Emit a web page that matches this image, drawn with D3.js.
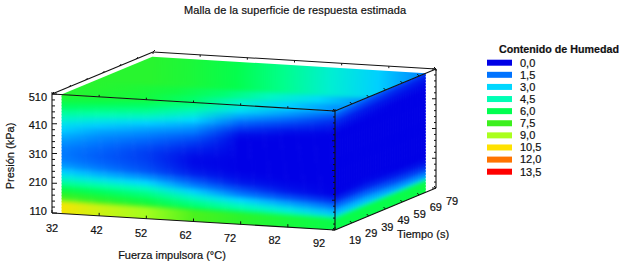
<!DOCTYPE html>
<html lang="es">
<head>
  <meta charset="UTF-8">
  <title>Malla de la superficie de respuesta estimada</title>
  <script src="https://d3js.org/d3.v7.min.js"></script>
  <style>
    body { margin: 0; background: white; }
    svg { display: block; }
    text { font-family: "Liberation Sans", Arial, sans-serif; fill: #111; stroke: #111; stroke-width: 0.2px; }
    .tick-label { font-size: 11px; }
    .axis-title { font-size: 11px; }
  </style>
</head>
<body>
  <svg width="621" height="265"></svg>

  <script>
    const fuerzaTicks = [32, 42, 52, 62, 72, 82, 92];
    const tiempoTicks = [19, 29, 39, 49, 59, 69, 79];
    const presionTicks = [110, 210, 310, 410, 510];

    const leyendaValores = [0, 1.5, 3, 4.5, 6, 7.5, 9, 10.5, 12, 13.5];
    const leyendaEtiquetas = ["0,0", "1,5", "3,0", "4,5", "6,0", "7,5", "9,0", "10,5", "12,0", "13,5"];
    const leyendaColores = ["#0000e6", "#0073ff", "#00d7ff", "#00ffb4", "#00ff50", "#3cf01e", "#aaff1e", "#ffe100", "#ff7300", "#ff0000"];

    // columnas y filas de las tablas
    const fuerzaMalla = [34, 42, 52, 62, 72, 82, 92];
    const tiempoMalla = [19, 37, 55, 73];
    const presionMalla = [510, 490, 470, 450, 430, 410, 390, 370, 350, 330, 310, 290, 270, 250, 230, 210, 190, 170, 150, 130, 110];

    // cara frontal: una fila por presion, una columna por fuerza
    const caraFrontal = [
      [7.0, 6.8, 6.5, 5.6, 4.0, 2.9, 2.0],
      [6.5, 6.2, 5.7, 4.8, 3.2, 2.1, 1.1],
      [5.8, 5.4, 5.0, 3.9, 2.2, 1.3, 0.5],
      [5.0, 4.6, 4.0, 3.0, 1.3, 0.7, 0.2],
      [4.2, 3.6, 2.9, 2.2, 0.7, 0.2, 0.0],
      [3.4, 2.8, 2.2, 1.6, 0.2, 0.0, 0.0],
      [2.9, 2.2, 1.7, 1.1, 0.0, 0.0, 0.0],
      [2.4, 1.8, 1.3, 0.7, 0.0, 0.0, 0.0],
      [2.0, 1.5, 1.0, 0.4, 0.0, 0.0, 0.0],
      [1.7, 1.3, 0.8, 0.2, 0.0, 0.0, 0.0],
      [1.6, 1.2, 0.8, 0.1, 0.0, 0.0, 0.0],
      [1.7, 1.3, 0.9, 0.2, 0.0, 0.0, 0.0],
      [2.1, 1.6, 1.1, 0.4, 0.1, 0.0, 0.0],
      [2.9, 2.4, 1.9, 1.0, 0.3, 0.1, 0.0],
      [3.9, 3.5, 3.0, 1.7, 0.9, 0.3, 0.0],
      [5.0, 4.7, 4.3, 2.9, 1.6, 1.0, 0.5],
      [6.2, 5.8, 5.3, 4.1, 3.0, 2.2, 1.4],
      [7.3, 6.8, 6.2, 5.2, 4.3, 3.5, 2.5],
      [8.3, 7.7, 7.1, 6.0, 5.4, 4.7, 3.8],
      [9.3, 8.7, 8.0, 6.9, 6.2, 5.6, 5.0],
      [10.3, 9.6, 8.9, 7.7, 7.1, 6.6, 6.2]
    ];

    // cara derecha: una fila por presion, una columna por tiempo
    const caraDerecha = [
      [2.0, 1.5, 1.1, 0.8],
      [1.1, 0.8, 0.5, 0.3],
      [0.5, 0.3, 0.2, 0.1],
      [0.2, 0.1, 0.0, 0.0],
      [0.0, 0.0, 0.0, 0.0],
      [0.0, 0.0, 0.0, 0.0],
      [0.0, 0.0, 0.0, 0.0],
      [0.0, 0.0, 0.0, 0.0],
      [0.0, 0.0, 0.0, 0.0],
      [0.0, 0.0, 0.0, 0.0],
      [0.0, 0.0, 0.0, 0.0],
      [0.0, 0.0, 0.0, 0.0],
      [0.0, 0.0, 0.0, 0.0],
      [0.0, 0.0, 0.0, 0.0],
      [0.0, 0.1, 0.0, 0.0],
      [0.5, 0.5, 0.3, 0.2],
      [1.4, 1.3, 0.9, 0.7],
      [2.5, 2.4, 1.9, 1.7],
      [3.8, 3.7, 3.3, 3.2],
      [5.0, 5.0, 4.9, 4.9],
      [6.2, 6.2, 6.2, 6.3]
    ];

    // cara superior (510 kPa): una fila por tiempo, una columna por fuerza
    const caraSuperior = [
      [7.0, 6.8, 6.5, 5.6, 4.0, 2.9, 2.0],
      [7.0, 6.8, 6.4, 5.5, 4.2, 3.1, 1.9],
      [7.0, 6.8, 6.3, 5.4, 4.2, 3.1, 1.8],
      [7.0, 6.7, 6.1, 5.1, 3.9, 2.9, 1.7]
    ];

    const svg = d3.select("svg");
    const color = d3.scaleLinear().domain(leyendaValores).range(leyendaColores).clamp(true);

    // proyeccion del cubo: cada eje aporta un desplazamiento en pantalla
    const fuerzaX = d3.scaleLinear().domain([32, 92]).range([0, 283]);
    const fuerzaY = d3.scaleLinear().domain([32, 92]).range([0, 17]);
    const tiempoX = d3.scaleLinear().domain([19, 79]).range([0, 101]);
    const tiempoY = d3.scaleLinear().domain([19, 79]).range([0, -42]);
    const presionY = d3.scaleLinear().domain([110, 510]).range([0, -119]);

    function project(f, t, p) {
      return [52 + fuerzaX(f) + tiempoX(t), 213 + fuerzaY(f) + tiempoY(t) + presionY(p)];
    }

    const defs = svg.append("defs");
    const blur = defs.append("filter").attr("id", "suave")
      .attr("color-interpolation-filters", "sRGB")
      .attr("x", "-5%").attr("y", "-15%").attr("width", "110%").attr("height", "130%");
    blur.append("feGaussianBlur").attr("stdDeviation", "0.6 2.2");

    const fMin = d3.min(fuerzaMalla), fMax = d3.max(fuerzaMalla);
    const tMin = d3.min(tiempoMalla), tMax = d3.max(tiempoMalla);
    const pMin = 110, pMax = 510;

    // cada fila es una tira con degradado a lo largo de sus columnas
    function drawFace(id, outline, rows, table, columns, rowPoint, colPoint, halfStep) {
      defs.append("clipPath").attr("id", "clip-" + id)
        .append("polygon").attr("points", outline.join(" "));
      const layer = svg.append("g").attr("clip-path", `url(#clip-${id})`)
        .append("g").attr("filter", "url(#suave)");
      rows.forEach((row, i) => {
        const a = columns[0], b = columns[columns.length - 1];
        const start = colPoint(a, row), end = colPoint(b, row);
        const grad = defs.append("linearGradient")
          .attr("id", `${id}-${i}`)
          .attr("gradientUnits", "userSpaceOnUse")
          .attr("x1", start[0]).attr("y1", start[1])
          .attr("x2", end[0]).attr("y2", end[1]);
        const offset = d3.scaleLinear().domain([a, b]).range([0, 1]);
        columns.forEach((c, j) => {
          grad.append("stop").attr("offset", offset(c)).attr("stop-color", color(table[i][j]));
        });
        const margin = (i === 0 || i === rows.length - 1) ? halfStep * 4 : halfStep * 1.1;
        layer.append("polygon")
          .attr("points", rowPoint(a, b, row, margin).join(" "))
          .attr("fill", `url(#${id}-${i})`);
      });
    }

    const frontal = [project(fMin, tMin, pMax), project(fMax, tMin, pMax), project(fMax, tMin, pMin), project(fMin, tMin, pMin)];
    drawFace("frontal", frontal, presionMalla, caraFrontal, fuerzaMalla,
      (a, b, p, m) => [project(a - 8, tMin, p + m), project(b + 8, tMin, p + m), project(b + 8, tMin, p - m), project(a - 8, tMin, p - m)],
      (f, p) => project(f, tMin, p), 10);

    const derecha = [project(fMax, tMin, pMax), project(fMax, tMax, pMax), project(fMax, tMax, pMin), project(fMax, tMin, pMin)];
    drawFace("derecha", derecha, presionMalla, caraDerecha, tiempoMalla,
      (a, b, p, m) => [project(fMax, a - 8, p + m), project(fMax, b + 8, p + m), project(fMax, b + 8, p - m), project(fMax, a - 8, p - m)],
      (t, p) => project(fMax, t, p), 10);

    const superior = [project(fMin, tMin, pMax), project(fMin, tMax, pMax), project(fMax, tMax, pMax), project(fMax, tMin, pMax)];
    drawFace("superior", superior, tiempoMalla, caraSuperior, fuerzaMalla,
      (a, b, t, m) => [project(a - 8, t - m, pMax), project(b + 8, t - m, pMax), project(b + 8, t + m, pMax), project(a - 8, t + m, pMax)],
      (f, t) => project(f, t, pMax), 9);

    // borde punteado blanco de la malla
    const line = d3.line();
    [[project(fMin, tMin, pMax), project(fMin, tMin, pMin)],
     [project(fMax, tMax, pMax), project(fMax, tMax, pMin)]].forEach(d => {
      svg.append("path").attr("d", line(d))
        .attr("fill", "none").attr("stroke", "white").attr("stroke-opacity", 0.75)
        .attr("stroke-dasharray", "1 2");
    });

    // aristas del cubo
    const c = (f, t, p) => project(f, t, p);
    const edges = [
      [c(32, 19, 510), c(32, 79, 510)],
      [c(32, 79, 510), c(92, 79, 510)],
      [c(92, 79, 510), c(92, 19, 510)],
      [c(92, 19, 510), c(32, 19, 510)],
      [c(32, 19, 510), c(32, 19, 110)],
      [c(92, 19, 510), c(92, 19, 110)],
      [c(92, 79, 510), c(92, 79, 110)],
      [c(32, 19, 110), c(92, 19, 110)],
      [c(92, 19, 110), c(92, 79, 110)]
    ];
    svg.append("g").selectAll("path").data(edges).join("path")
      .attr("d", d => line(d)).attr("fill", "none").attr("stroke", "#111").attr("stroke-width", 1.1);

    // marcas sobre las aristas
    const marks = [];
    fuerzaTicks.forEach(f => {
      marks.push([c(f, 19, 110), [c(f, 19, 110)[0], c(f, 19, 110)[1] - 3]]);
      marks.push([c(f, 19, 510), [c(f, 19, 510)[0], c(f, 19, 510)[1] - 2]]);
      marks.push([c(f, 79, 510), [c(f, 79, 510)[0], c(f, 79, 510)[1] + 2]]);
    });
    tiempoTicks.forEach(t => {
      marks.push([c(92, t, 110), [c(92, t, 110)[0] - 2, c(92, t, 110)[1] - 2]]);
      marks.push([c(92, t, 510), [c(92, t, 510)[0] - 2, c(92, t, 510)[1] - 2]]);
      marks.push([c(32, t, 510), [c(32, t, 510)[0] + 2, c(32, t, 510)[1] - 2]]);
    });
    presionTicks.forEach(p => {
      marks.push([c(32, 19, p), [c(32, 19, p)[0] + 5, c(32, 19, p)[1]]]);
      marks.push([c(92, 19, p), [c(92, 19, p)[0] - 3, c(92, 19, p)[1]]]);
      marks.push([c(92, 79, p), [c(92, 79, p)[0] - 4, c(92, 79, p)[1]]]);
    });
    d3.range(130, 510, 20).filter(p => !presionTicks.includes(p)).forEach(p => {
      marks.push([c(32, 19, p), [c(32, 19, p)[0] + 3, c(32, 19, p)[1]]]);
      marks.push([c(92, 19, p), [c(92, 19, p)[0] - 2, c(92, 19, p)[1]]]);
      marks.push([c(92, 79, p), [c(92, 79, p)[0] - 2, c(92, 79, p)[1]]]);
    });
    svg.append("g").selectAll("path").data(marks).join("path")
      .attr("d", d => line(d)).attr("stroke", "#111").attr("stroke-width", 1);

    // etiquetas de los ejes
    const fuerzaLabelX = d3.scaleLinear().domain([32, 92]).range([52, 319]);
    const fuerzaLabelY = d3.scaleLinear().domain([32, 92]).range([228, 243]);
    const tiempoLabelX = d3.scaleLinear().domain([19, 79]).range([355, 452]);
    const tiempoLabelY = d3.scaleLinear().domain([19, 79]).range([240, 201]);
    const presionLabelY = d3.scaleLinear().domain([110, 510]).range([211, 97]);

    svg.append("g").selectAll("text").data(fuerzaTicks).join("text")
      .attr("class", "tick-label").attr("text-anchor", "middle").attr("dy", "0.35em")
      .attr("x", d => fuerzaLabelX(d)).attr("y", d => fuerzaLabelY(d)).text(d => d);
    svg.append("g").selectAll("text").data(tiempoTicks).join("text")
      .attr("class", "tick-label").attr("text-anchor", "middle").attr("dy", "0.35em")
      .attr("x", d => tiempoLabelX(d)).attr("y", d => tiempoLabelY(d)).text(d => d);
    svg.append("g").selectAll("text").data(presionTicks).join("text")
      .attr("class", "tick-label").attr("text-anchor", "end").attr("dy", "0.35em")
      .attr("x", 47).attr("y", d => presionLabelY(d)).text(d => d);

    svg.append("text").attr("class", "axis-title").attr("text-anchor", "middle")
      .attr("x", 172).attr("y", 259).text("Fuerza impulsora (°C)");
    svg.append("text").attr("class", "axis-title").attr("text-anchor", "middle")
      .attr("x", 423).attr("y", 238).text("Tiempo (s)");
    svg.append("text").attr("class", "axis-title").attr("text-anchor", "middle")
      .attr("transform", "translate(14,156) rotate(-90)").text("Presión (kPa)");

    svg.append("text").attr("x", 184).attr("y", 14)
      .attr("font-size", 11).attr("textLength", 222)
      .text("Malla de la superficie de respuesta estimada");

    // leyenda
    const leyendaY = d3.scalePoint().domain(leyendaEtiquetas).range([62.7, 171.7]);
    svg.append("text").attr("x", 499).attr("y", 53).attr("font-size", 11)
      .attr("textLength", 120).attr("lengthAdjust", "spacingAndGlyphs")
      .attr("font-weight", "bold").text("Contenido de Humedad");
    svg.append("g").selectAll("rect").data(leyendaEtiquetas).join("rect")
      .attr("x", 487).attr("width", 25).attr("height", 6)
      .attr("y", d => leyendaY(d) - 3)
      .attr("fill", (d, i) => color(leyendaValores[i]));
    svg.append("g").selectAll("text").data(leyendaEtiquetas).join("text")
      .attr("x", 520).attr("y", d => leyendaY(d)).attr("dy", "0.35em")
      .attr("font-size", 11).text(d => d);
  </script>
</body>
</html>
